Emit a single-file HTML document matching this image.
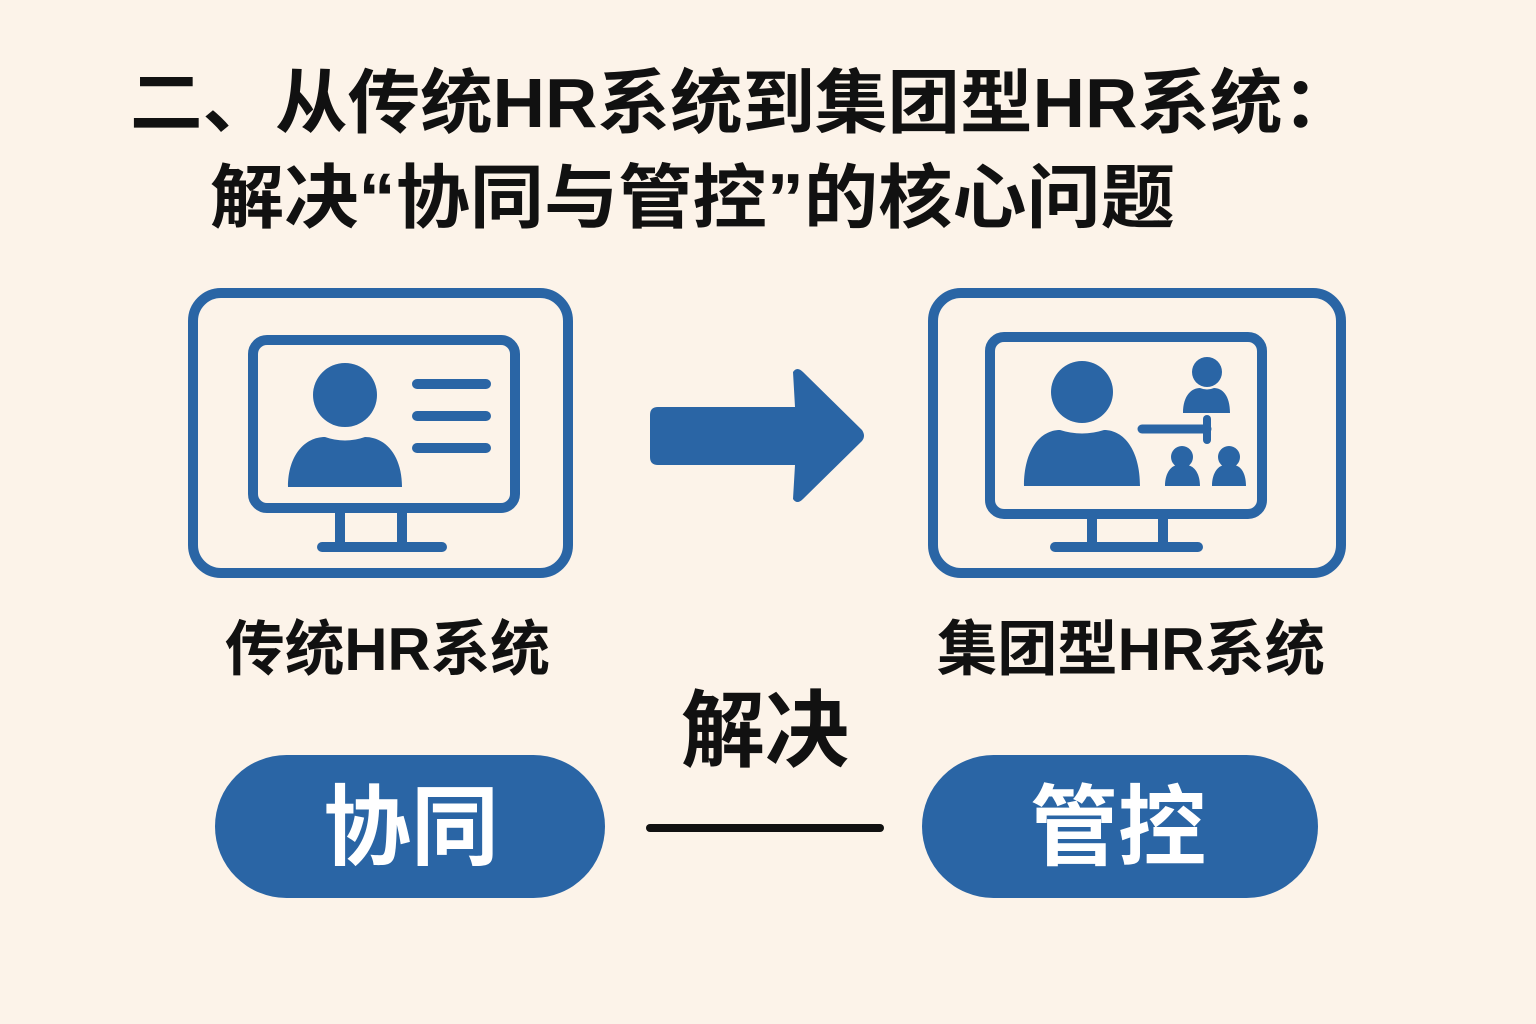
<!DOCTYPE html>
<html><head><meta charset="utf-8"><style>
html,body{margin:0;padding:0;background:#fcf3e9;}
svg{display:block}
text{font-family:"Liberation Sans","Noto Sans CJK SC",sans-serif;font-weight:bold}
</style></head><body>
<svg width="1536" height="1024" viewBox="0 0 1536 1024" xmlns="http://www.w3.org/2000/svg">
<rect width="1536" height="1024" fill="#fcf3e9"/>
<text x="130" y="127" font-size="70" fill="#111" textLength="1225" lengthAdjust="spacingAndGlyphs">二、从传统HR系统到集团型HR系统：</text>
<text x="210" y="222" font-size="70" fill="#111" textLength="965" lengthAdjust="spacingAndGlyphs">解决“协同与管控”的核心问题</text>

<g fill="none" stroke="#2a65a5" stroke-width="10" stroke-linecap="round">
<rect x="193" y="293" width="375" height="280" rx="28"/>
<rect x="253" y="340" width="262" height="168" rx="14"/>
<line x1="340" y1="510" x2="340" y2="545"/><line x1="402" y1="510" x2="402" y2="545"/>
<line x1="322" y1="547" x2="442" y2="547"/>
<line x1="417" y1="384" x2="486" y2="384"/><line x1="417" y1="416" x2="486" y2="416"/><line x1="417" y1="448" x2="486" y2="448"/>

<rect x="933" y="293" width="408" height="280" rx="28"/>
<rect x="990" y="337" width="272" height="177" rx="14"/>
<line x1="1092" y1="516" x2="1092" y2="545"/><line x1="1163" y1="516" x2="1163" y2="545"/>
<line x1="1055" y1="547" x2="1198" y2="547"/>
<line x1="1142" y1="429" x2="1207" y2="429" stroke-width="9"/>
<line x1="1207" y1="419" x2="1207" y2="440" stroke-width="8"/>
</g>
<g fill="#2a65a5">
<circle cx="345" cy="395" r="32"/>
<path d="M288,487 C288,455 305,437 325,437 Q345,444 365,437 C385,437 402,455 402,487 Z"/>
<circle cx="1082" cy="392" r="31"/>
<path d="M1024,486 C1024,450 1040,430 1060,430 Q1082,437 1104,430 C1124,430 1140,450 1140,486 Z"/>
<circle cx="1207" cy="372" r="15"/>
<path d="M1183,413 C1183,395 1192,388 1200,388 Q1207,391 1214,388 C1222,388 1230,395 1230,413 Z"/>
<circle cx="1182" cy="457" r="11"/>
<path d="M1165,486 C1165,472 1172,465 1178,465 Q1182,467 1186,465 C1193,465 1200,472 1200,486 Z"/>
<circle cx="1229" cy="457" r="11"/>
<path d="M1212,486 C1212,472 1219,465 1225,465 Q1229,467 1233,465 C1240,465 1246,472 1246,486 Z"/>
<path d="M658,407 L795,407 L793,372 Q797,366 803,372 L862,430 Q866,436 862,441 L803,499 Q797,505 793,499 L795,465 L658,465 Q650,465 650,457 L650,415 Q650,407 658,407 Z"/>
<rect x="215" y="755" width="390" height="143" rx="71.5"/>
<rect x="922" y="755" width="396" height="143" rx="71.5"/>
</g>
<text x="225" y="670" font-size="60" fill="#111" textLength="325" lengthAdjust="spacingAndGlyphs">传统HR系统</text>
<text x="937" y="670" font-size="60" fill="#111" textLength="388" lengthAdjust="spacingAndGlyphs">集团型HR系统</text>
<text x="765" y="760" font-size="84" fill="#111" text-anchor="middle">解决</text>
<line x1="650" y1="828" x2="880" y2="828" stroke="#111" stroke-width="8" stroke-linecap="round"/>
<text x="411" y="858" font-size="88" fill="#fff" text-anchor="middle">协同</text>
<text x="1118" y="858" font-size="88" fill="#fff" text-anchor="middle">管控</text>
</svg>
</body></html>
